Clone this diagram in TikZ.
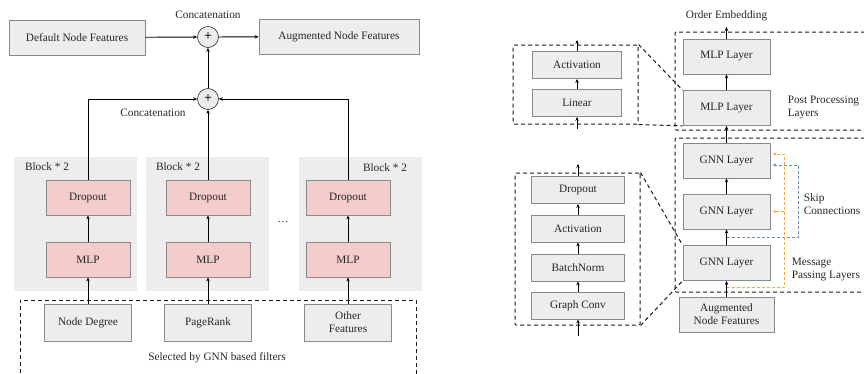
\documentclass[tikz,border=0pt]{standalone}
\usepackage{fontspec}
\setmainfont{Liberation Serif}
\usetikzlibrary{arrows.meta}

\definecolor{boxgray}{HTML}{EDEDED}
\definecolor{boxline}{HTML}{8A8A8A}
\definecolor{pinkfill}{HTML}{F4CCCC}
\definecolor{skipblue}{HTML}{6F8FA6}
\definecolor{msgorange}{HTML}{F5A83A}

\begin{document}
\begin{tikzpicture}[x=1pt,y=-1pt,
  font=\rmfamily\fontsize{11.3}{13}\selectfont, text=black!85,
  >={Stealth[length=4pt,width=3.4pt]},
  every path/.style={line width=0.9pt},
  greybox/.style={draw=boxline,fill=boxgray,line width=0.8pt,inner sep=1pt,align=center,minimum height=35},
  pinkbox/.style={draw=boxline,fill=pinkfill,line width=0.8pt,minimum width=84,minimum height=35},
  layerbox/.style={greybox,minimum width=#1,minimum height=27},
  blockbg/.style={fill=boxgray,minimum width=123,minimum height=134},
  catnode/.style={circle,draw=black!75,fill=boxgray,line width=0.7pt,minimum size=21,inner sep=0pt,font=\fontsize{14}{14}\selectfont\bfseries},
  zoomline/.style={draw=black!90,line width=1pt,dash pattern=on 4pt off 3pt},
  zoombox/.style={zoomline,rounded corners=1pt,inner sep=0pt},
  skipline/.style={draw=skipblue,dash pattern=on 3pt off 2pt,line width=0.8pt,shorten >=2pt},
  msgline/.style={draw=msgorange,dash pattern=on 3pt off 2pt,line width=0.8pt,shorten >=2pt}]
\useasboundingbox (0,0) rectangle (864,373);

% feature augmentation
\node[greybox,minimum width=136] (dnf) at (77,37.5) {Default Node Features};
\node[catnode] (catA) at (208,37) {+};
\node[greybox,minimum width=160] (anf) at (339,36.5) {Augmented Node Features};
\node (catAl) at (208,15) {Concatenation};
\node[catnode] (catB) at (208,99) {+};
\node (catBl) at (153,113) {Concatenation};

\node[blockbg] (blkA) at (75,224) {};
\node[blockbg] (blkB) at (207.5,224) {};
\node[blockbg] (blkC) at (360.5,224) {};
\node (blkAl) at (47,167) {Block * 2};
\node (blkBl) at (178,167) {Block * 2};
\node (blkCl) at (385,168) {Block * 2};

\node[pinkbox] (dropA) at (88,197.5) {Dropout};
\node[pinkbox] (dropB) at (208,197.5) {Dropout};
\node[pinkbox] (dropC) at (348,197.5) {Dropout};
\node[pinkbox] (mlpA) at (88,259.5) {MLP};
\node[pinkbox] (mlpB) at (208,259.5) {MLP};
\node[pinkbox] (mlpC) at (348,259.5) {MLP};
\node (dots) at (283,222) {\dots};

\node[greybox,minimum width=87,minimum height=37] (deg) at (88,322.5) {Node Degree};
\node[greybox,minimum width=87,minimum height=37] (prank) at (208,322.5) {PageRank};
\node[greybox,minimum width=87,minimum height=37] (other) at (348,322.5) {Other\\Features};
\draw[zoomline] (20,380) |- (416,300) -- (416,380);
\node (sel) at (217,358) {Selected by GNN based filters};

\draw[->] (deg) -- (mlpA);
\draw[->] (prank) -- (mlpB);
\draw[->] (other) -- (mlpC);
\draw[->] (mlpA) -- (dropA);
\draw[->] (mlpB) -- (dropB);
\draw[->] (mlpC) -- (dropC);
\draw[->] (dropA.north) |- (catB.west);
\draw[->] (dropB) -- (catB);
\draw[->] (dropC.north) |- (catB.east);
\draw[->] (catB) -- (catA);
\draw[->] (dnf) -- (catA);
\draw[->] (catA) -- (anf);

% order embedding model
\node[zoombox,minimum width=205,minimum height=98] (post) at (777.5,81) {};
\node[zoombox,minimum width=205,minimum height=154] (gnn) at (777.5,215) {};
\node (oe) at (726.5,16) {Order Embedding};
\coordinate (oetip) at (726.5,27);
\node[greybox,minimum width=87] (mlpL1) at (726.5,56.5) {MLP Layer};
\node[greybox,minimum width=87] (mlpL2) at (726.5,108) {MLP Layer};
\node[greybox,minimum width=87] (gnnL3) at (726.5,160.5) {GNN Layer};
\node[greybox,minimum width=87] (gnnL2) at (726.5,211.5) {GNN Layer};
\node[greybox,minimum width=87] (gnnL1) at (726.5,263) {GNN Layer};
\node[greybox,minimum width=95] (aug) at (726.5,314.5) {Augmented\\Node Features};

\draw[->] (aug) -- (gnnL1);
\draw[->] (gnnL1) -- (gnnL2);
\draw[->] (gnnL2) -- (gnnL3);
\draw[->] (gnnL3) -- (mlpL2);
\draw[->] (mlpL2) -- (mlpL1);
\draw[->] (mlpL1) -- (oetip);

\coordinate (skipin) at (726.5,237);
\coordinate (msgin) at (726.5,287);
\coordinate (msgmid) at (784,211.5);
\draw[skipline,->] (skipin) -- ++(71.5,0) |- ([yshift=-4.5pt]gnnL3.east);
\draw[msgline,->] (msgin) -- ++(57.5,0) |- ([yshift=6.5pt]gnnL3.east);
\draw[msgline,->] (msgmid) -- (gnnL2.east);

\node[anchor=west,align=left] (ppl) at (784,107) {Post Processing\\Layers};
\node[anchor=west,align=left] (skl) at (800,204.5) {Skip\\Connections};
\node[anchor=west,align=left] (mpl) at (788,270) {Message\\Passing Layers};

% zoomed layers
\node[zoombox,minimum width=125,minimum height=79] (lyrA) at (575.5,84.5) {};
\node[layerbox=89] (actA) at (577,65) {Activation};
\node[layerbox=89] (lin) at (577,103) {Linear};
\coordinate (linin) at (577,129);
\coordinate (actout) at (577,40);
\draw[->] (linin) -- (lin);
\draw[->] (lin) -- (actA);
\draw[->] (actA) -- (actout);
\draw[zoomline] (lyrA.north east) -- (mlpL2.north west);
\draw[zoomline] (lyrA.south east) -- (mlpL2.south west);

\node[zoombox,minimum width=125,minimum height=152] (lyrB) at (577.5,249) {};
\node[layerbox=93] (dropL) at (578,190) {Dropout};
\node[layerbox=93] (actB) at (578,228.5) {Activation};
\node[layerbox=93] (bnorm) at (578,267.5) {BatchNorm};
\node[layerbox=93] (gconv) at (578,305.5) {Graph Conv};
\coordinate (gconvin) at (578,336);
\coordinate (dropout) at (578,164);
\draw[->] (gconvin) -- (gconv);
\draw[->] (gconv) -- (bnorm);
\draw[->] (bnorm) -- (actB);
\draw[->] (actB) -- (dropL);
\draw[->] (dropL) -- (dropout);
\draw[zoomline] (lyrB.north east) -- (gnnL1.north west);
\draw[zoomline] (lyrB.south east) -- (gnnL1.south west);
\end{tikzpicture}
\end{document}
